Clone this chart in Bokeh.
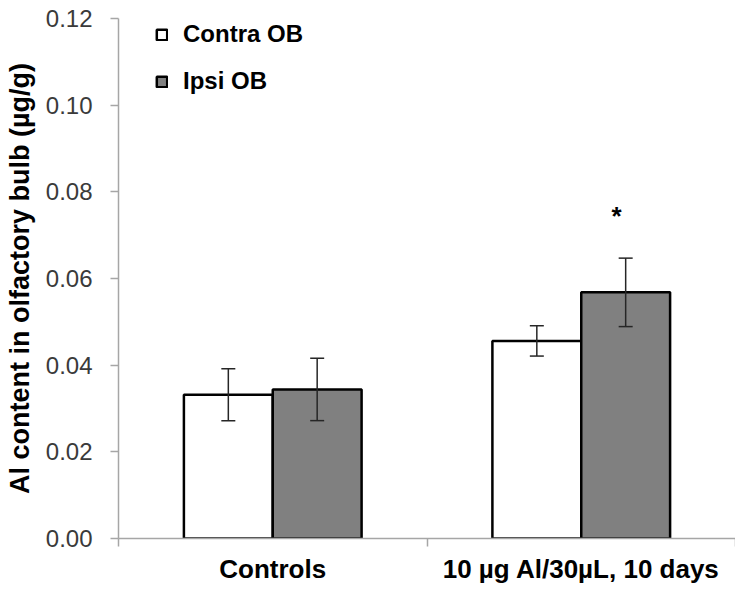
from bokeh.plotting import figure
from bokeh.models import (Range1d, FixedTicker, Whisker, ColumnDataSource, Legend,
                          LegendItem, TeeHead)
from bokeh.core.properties import value
from bokeh.embed import file_html
from bokeh.resources import INLINE

# ---- data ----
groups = ["Controls", "10 µg Al/30µL, 10 days"]
contra_mean = [0.0332, 0.0456]
contra_err = [0.0060, 0.0035]
ipsi_mean = [0.0344, 0.0568]
ipsi_err = [0.0072, 0.0079]
y_ticks = [0.00, 0.02, 0.04, 0.06, 0.08, 0.10, 0.12]
y_tick_labels = ["0.00", "0.02", "0.04", "0.06", "0.08", "0.10", "0.12"]
sig_group = 1
sig_y = 0.0745
series_names = ["Contra OB", "Ipsi OB"]

FONT = "Liberation Sans"
AXIS_GRAY = "#a6a6a6"
BAR_W = 0.288
OFF = BAR_W / 2
NAN = float("nan")

centers = [i + 0.5 for i in range(len(groups))]
x_contra = [c - OFF for c in centers]
x_ipsi = [c + OFF for c in centers]

p = figure(width=735, height=590, x_range=Range1d(0, len(groups)), y_range=Range1d(0, 0.12),
           output_backend="svg", toolbar_location=None,
           min_border_left=118, min_border_right=0, min_border_top=18, min_border_bottom=52)
p.outline_line_color = None
p.xgrid.visible = False
p.ygrid.visible = False
p.background_fill_color = "white"
p.border_fill_color = "white"

src_c = ColumnDataSource(dict(x=x_contra, top=contra_mean,
                              upper=[m + e for m, e in zip(contra_mean, contra_err)],
                              lower=[m - e for m, e in zip(contra_mean, contra_err)]))
src_i = ColumnDataSource(dict(x=x_ipsi, top=ipsi_mean,
                              upper=[m + e for m, e in zip(ipsi_mean, ipsi_err)],
                              lower=[m - e for m, e in zip(ipsi_mean, ipsi_err)]))

p.vbar(x="x", top="top", bottom=0, width=BAR_W, source=src_c,
       fill_color="white", line_color="black", line_width=2.5)
p.vbar(x="x", top="top", bottom=0, width=BAR_W, source=src_i,
       fill_color="#808080", line_color="black", line_width=2.5)

for src in (src_c, src_i):
    w = Whisker(source=src, base="x", upper="upper", lower="lower",
                line_color="#262626", line_width=1.5, level="overlay",
                upper_head=TeeHead(size=14, line_color="#262626", line_width=1.5),
                lower_head=TeeHead(size=14, line_color="#262626", line_width=1.5))
    p.add_layout(w)

# significance marker
p.text(x=[x_ipsi[sig_group]], y=[sig_y], text=["*"], text_font=value(FONT),
       text_font_style="bold", text_font_size="26px", text_align="center",
       text_baseline="middle", x_offset=-9, text_color="black")

# legend (proxy renderers, not drawn in the plot area)
r1 = p.vbar(x=[NAN], top=[NAN], width=0.1, fill_color="white", line_color="black", line_width=2.5)
r2 = p.vbar(x=[NAN], top=[NAN], width=0.1, fill_color="#808080", line_color="black", line_width=2.5)
legend = Legend(items=[LegendItem(label=series_names[0], renderers=[r1]),
                       LegendItem(label=series_names[1], renderers=[r2])],
                location=(37, 443), glyph_width=13, glyph_height=13, label_height=20,
                spacing=19, padding=0, margin=0, border_line_color=None,
                background_fill_alpha=0, label_text_font=FONT, label_text_font_style="bold",
                label_text_font_size="24px", label_standoff=15, label_text_color="black")
p.add_layout(legend)

# y axis
yax = p.yaxis[0]
yax.ticker = FixedTicker(ticks=y_ticks, minor_ticks=[])
yax.major_label_overrides = {t: l for t, l in zip(y_ticks, y_tick_labels)}
yax.axis_line_color = AXIS_GRAY
yax.axis_line_width = 1.5
yax.major_tick_line_color = AXIS_GRAY
yax.major_tick_line_width = 1.5
yax.major_tick_out = 8
yax.major_tick_in = 0
yax.minor_tick_line_color = None
yax.major_label_standoff = 18
yax.major_label_text_font = FONT
yax.major_label_text_font_size = "24px"
yax.major_label_text_color = "#3a3a3a"
yax.axis_label = "Al content in olfactory bulb (µg/g)"
yax.axis_label_text_font = FONT
yax.axis_label_text_font_style = "bold"
yax.axis_label_text_font_size = "27px"
yax.axis_label_text_color = "black"
yax.axis_label_standoff = 8

# x axis
xax = p.xaxis[0]
xax.ticker = FixedTicker(ticks=centers, minor_ticks=[float(i) for i in range(len(groups) + 1)])
xax.major_label_overrides = {c: g for c, g in zip(centers, groups)}
xax.axis_line_color = AXIS_GRAY
xax.axis_line_width = 1.5
xax.major_tick_line_color = None
xax.major_tick_out = 0
xax.major_tick_in = 0
xax.minor_tick_line_color = AXIS_GRAY
xax.minor_tick_line_width = 1.5
xax.minor_tick_out = 8
xax.minor_tick_in = 0
xax.major_label_standoff = 7
xax.major_label_text_font = FONT
xax.major_label_text_font_style = "bold"
xax.major_label_text_font_size = "26px"
xax.major_label_text_color = "black"

open("out.html", "w").write(file_html(p, INLINE))
